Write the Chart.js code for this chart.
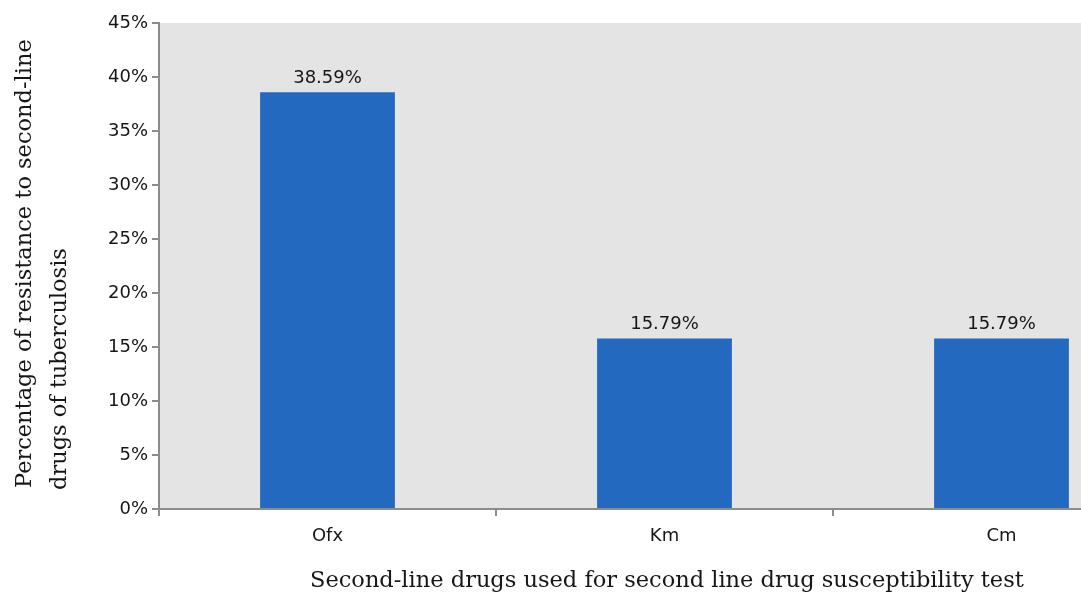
<!DOCTYPE html>
<html>
<head>
<meta charset="utf-8">
<script src="https://cdn.jsdelivr.net/npm/chart.js@4/dist/chart.umd.min.js"></script>
<style>
  html, body { margin: 0; padding: 0; background: #fff; overflow: hidden; }
  #wrap { width: 1172px; height: 595px; position: relative; }
</style>
</head>
<body>
<div id="wrap"><canvas id="c"></canvas></div>
<script>
// Second-line drug resistance (%)
const drugs = ['Ofx', 'Km', 'Cm'];
const resistance = [38.59, 15.79, 15.79];
const yTicks = [0, 5, 10, 15, 20, 25, 30, 35, 40, 45];
const yTitleLines = ['Percentage of resistance to second-line', 'drugs of tuberculosis'];
const xTitle = 'Second-line drugs used for second line drug susceptibility test';

const axisGrey = '#8c8c8c';
const textColor = '#161616';
const sansFont = '"DejaVu Sans", Verdana, sans-serif';
const serifFont = '"DejaVu Serif", "Liberation Serif", serif';

const plotBackground = {
  id: 'plotBackground',
  beforeDraw(chart) {
    const { ctx, chartArea: a } = chart;
    ctx.save();
    ctx.fillStyle = '#e4e4e4';
    ctx.fillRect(a.left, a.top, a.right - a.left, a.bottom - a.top);
    ctx.restore();
  }
};

const valueLabels = {
  id: 'valueLabels',
  afterDatasetsDraw(chart) {
    const { ctx } = chart;
    const meta = chart.getDatasetMeta(0);
    ctx.save();
    ctx.fillStyle = textColor;
    ctx.font = '18px ' + sansFont;
    ctx.textAlign = 'center';
    ctx.textBaseline = 'bottom';
    meta.data.forEach((bar, i) => {
      ctx.fillText(resistance[i].toFixed(2) + '%', bar.x, bar.y - 5);
    });
    ctx.restore();
  }
};

const axisTitles = {
  id: 'axisTitles',
  afterDraw(chart) {
    const { ctx } = chart;
    ctx.save();
    ctx.fillStyle = textColor;
    ctx.font = '22.5px ' + serifFont;
    // x title
    ctx.textAlign = 'left';
    ctx.textBaseline = 'middle';
    ctx.fillText(xTitle, 310, 581);
    // y title, rotated, both lines start from the bottom
    ctx.rotate(-Math.PI / 2);
    ctx.fillText(yTitleLines[0], -488, 25);
    ctx.fillText(yTitleLines[1], -490, 60);
    ctx.restore();
  }
};

new Chart(document.getElementById('c'), {
  type: 'bar',
  data: {
    labels: drugs,
    datasets: [{
      data: resistance,
      backgroundColor: '#2469c0',
      borderWidth: 0,
      barPercentage: 0.4,
      categoryPercentage: 1.0
    }]
  },
  options: {
    responsive: true,
    maintainAspectRatio: false,
    animation: false,
    devicePixelRatio: 1,
    layout: { padding: { top: 23, right: 2, left: 0, bottom: 0 } },
    plugins: {
      legend: { display: false },
      tooltip: { enabled: false }
    },
    scales: {
      x: {
        afterFit(scale) { scale.height = 86; },
        border: { display: true, color: axisGrey, width: 2 },
        grid: { display: true, offset: true, drawOnChartArea: false, drawTicks: true, tickLength: 7, color: axisGrey, lineWidth: 2 },
        ticks: { color: textColor, font: { family: sansFont, size: 18 }, padding: 10 }
      },
      y: {
        min: 0,
        max: 45,
        afterFit(scale) { scale.width = 159; },
        afterBuildTicks(scale) { scale.ticks = yTicks.map(v => ({ value: v })); },
        border: { display: true, color: axisGrey, width: 2 },
        grid: { display: true, drawOnChartArea: false, drawTicks: true, tickLength: 7, color: axisGrey, lineWidth: 2 },
        ticks: {
          color: textColor,
          font: { family: sansFont, size: 18 },
          padding: 4,
          callback: v => v + '%'
        }
      }
    }
  },
  plugins: [plotBackground, valueLabels, axisTitles]
});
</script>
</body>
</html>
